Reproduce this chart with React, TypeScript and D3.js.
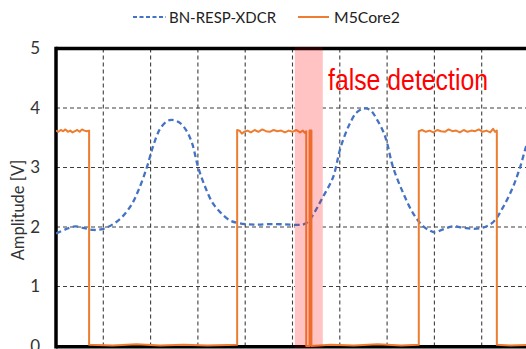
import React from 'react'
import * as d3 from 'd3'

// BN-RESP-XDCR (dashed blue)
const respTime = [0.00, 0.20, 0.40, 0.60, 0.80, 1.00, 1.21, 1.40, 1.60, 1.75, 1.92, 2.05, 2.20, 2.35, 2.45, 2.60, 2.75, 2.88, 3.00, 3.15, 3.30, 3.47, 3.68, 3.89, 4.20, 4.60, 4.95, 5.22, 5.32, 5.43, 5.64, 5.86, 6.00, 6.11, 6.22, 6.35, 6.50, 6.64, 6.79, 6.92, 7.00, 7.12, 7.34, 7.55, 7.74, 7.90, 8.01, 8.18, 8.39, 8.60, 8.82, 9.03, 9.24, 9.45, 9.66, 9.81, 9.94, 10.0]
const respVolt = [1.89, 1.96, 2.01, 1.98, 1.95, 1.97, 2.05, 2.17, 2.38, 2.63, 3.00, 3.35, 3.65, 3.78, 3.80, 3.76, 3.63, 3.40, 3.02, 2.68, 2.42, 2.25, 2.11, 2.06, 2.04, 2.05, 2.04, 2.04, 2.08, 2.20, 2.50, 2.84, 3.29, 3.55, 3.75, 3.92, 3.99, 3.97, 3.80, 3.60, 3.41, 3.02, 2.57, 2.23, 2.03, 1.94, 1.91, 1.96, 2.01, 1.99, 1.97, 1.99, 2.08, 2.33, 2.67, 3.00, 3.36, 3.50]

// M5Core2 (orange)
const m5Time = [
  0.00, 0.05, 0.10, 0.15, 0.20, 0.25, 0.30, 0.35, 0.40, 0.45, 0.50, 0.55, 0.60, 0.65, 0.70,
  0.70, 1.20, 1.70, 2.20, 2.70, 3.20, 3.83,
  3.83, 3.88, 3.93, 3.98, 4.05, 4.12, 4.20, 4.28, 4.36, 4.44, 4.52, 4.60, 4.68, 4.76, 4.84, 4.92, 5.00, 5.08, 5.16, 5.22, 5.26, 5.29,
  5.29, 5.36, 5.36, 5.40, 5.40,
  5.80, 6.30, 6.80, 7.30, 7.67,
  7.67, 7.74, 7.82, 7.90, 7.98, 8.06, 8.14, 8.22, 8.30, 8.38, 8.46, 8.54, 8.62, 8.70, 8.78, 8.86, 8.94, 9.02, 9.10, 9.18, 9.24, 9.28, 9.32,
  9.32, 9.60, 10.0,
]
const m5Volt = [
  3.62, 3.60, 3.63, 3.61, 3.64, 3.60, 3.62, 3.59, 3.61, 3.63, 3.60, 3.64, 3.62, 3.61, 3.62,
  0.02, 0.01, 0.03, 0.01, 0.02, 0.01, 0.02,
  3.63, 3.62, 3.57, 3.60, 3.62, 3.59, 3.63, 3.60, 3.64, 3.61, 3.60, 3.63, 3.61, 3.62, 3.59, 3.62, 3.60, 3.63, 3.59, 3.62, 3.58, 3.61,
  0.00, 0.00, 3.62, 3.62, 0.00,
  0.02, 0.01, 0.03, 0.01, 0.02,
  3.61, 3.63, 3.60, 3.62, 3.59, 3.63, 3.61, 3.60, 3.64, 3.61, 3.62, 3.59, 3.63, 3.60, 3.62, 3.61, 3.64, 3.60, 3.62, 3.59, 3.65, 3.60, 3.62,
  0.02, 0.01, 0.02,
]

const yTicks = [0, 1, 2, 3, 4, 5]
const xGrid = [1, 2, 3, 4, 5, 6, 7, 8, 9]
const falseBand = [5.05, 5.64]

const W = 526
const H = 349
const BLUE = '#4472C4'
const ORANGE = '#ED7D31'
const FONT = 'Lato, Carlito, sans-serif'

export default function App() {
  const x = d3.scaleLinear().domain([0, 10]).range([56, 529])
  const y = d3.scaleLinear().domain([0, 5]).range([346, 48.5])

  const line = d3.line<[number, number]>().x(d => x(d[0])).y(d => y(d[1]))
  const smooth = d3.line<[number, number]>().x(d => x(d[0])).y(d => y(d[1])).curve(d3.curveCatmullRom)

  const resp = respTime.map((t, i) => [t, respVolt[i]] as [number, number])
  const m5 = m5Time.map((t, i) => [t, m5Volt[i]] as [number, number])

  const bx0 = x(falseBand[0])
  const bw = x(falseBand[1]) - bx0

  return (
    <svg width={W} height={H} style={{ position: 'absolute', left: 0, top: 0, background: '#fff' }}>
      <defs>
        <clipPath id="plot">
          <rect x={56} y={40} width={W - 56} height={310} />
        </clipPath>
      </defs>

      {/* legend */}
      <line x1={133} x2={166} y1={17} y2={17} stroke={BLUE} strokeWidth={2} strokeDasharray="4,2.5" />
      <text x={169} y={17} dy="0.35em" fontFamily={FONT} fontSize={16} fill="#222" textLength={107} lengthAdjust="spacingAndGlyphs">BN-RESP-XDCR</text>
      <line x1={298} x2={329} y1={17} y2={17} stroke={ORANGE} strokeWidth={2} />
      <text x={334} y={17} dy="0.35em" fontFamily={FONT} fontSize={16} fill="#222" textLength={66} lengthAdjust="spacingAndGlyphs">M5Core2</text>

      {/* grid */}
      <g stroke="#3f3f3f" strokeWidth={1.1} strokeDasharray="4,3">
        {yTicks.filter(v => v > 0 && v < 5).map(v => (
          <line key={'h' + v} x1={56} x2={W} y1={y(v)} y2={y(v)} />
        ))}
        {xGrid.map(v => (
          <line key={'v' + v} x1={x(v)} x2={x(v)} y1={48.5} y2={346} />
        ))}
      </g>

      {/* false detection band */}
      <rect x={bx0} y={47} width={bw} height={301} fill="#ffe3e3" />

      {/* borders */}
      <g stroke="#000" strokeWidth={3.5}>
        <line x1={56} x2={W} y1={48.5} y2={48.5} />
        <line x1={56} x2={W} y1={346.8} y2={346.8} />
        <line x1={56} x2={56} y1={46.75} y2={348.5} />
      </g>

      {/* series */}
      <g clipPath="url(#plot)">
        <path d={smooth(resp) || ''} fill="none" stroke={BLUE} strokeWidth={2.3} strokeDasharray="5.5,3.5" />
        <path d={line(m5) || ''} fill="none" stroke={ORANGE} strokeWidth={2} strokeLinejoin="round" />
      </g>

      <rect x={bx0} y={47} width={bw} height={301} fill="#ff0000" fillOpacity={0.14} />

      <text x={328} y={90} fontFamily="'Liberation Sans', Arial, sans-serif" fontSize={30} fill="#ff0000" textLength={160} lengthAdjust="spacingAndGlyphs">false detection</text>

      {/* y axis */}
      {yTicks.map(v => (
        <text key={v} x={40} y={y(v)} dy="0.35em" textAnchor="end" fontFamily={FONT} fontSize={17} fill="#333">{v}</text>
      ))}
      <text transform="translate(18,210) rotate(-90)" textAnchor="middle" dy="0.35em" fontFamily={FONT} fontSize={16.5} fill="#333">Amplitude [V]</text>
    </svg>
  )
}
